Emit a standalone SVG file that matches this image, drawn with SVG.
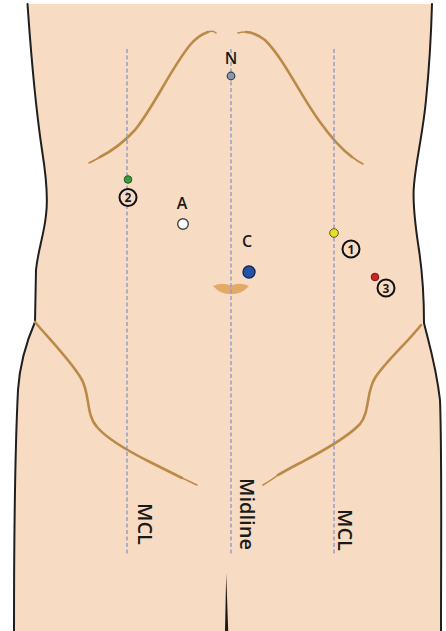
<svg xmlns="http://www.w3.org/2000/svg" width="446" height="631" viewBox="0 0 446 631">
  <style>
    .skin { fill: #f7dcc3; }
    .outline { fill: none; stroke: #1f1f1f; stroke-width: 2; stroke-linejoin: round; stroke-linecap: round; }
    .fold { fill: none; stroke: #bb8a48; stroke-width: 2.6; stroke-linecap: round; }
    .fold-thin { fill: none; stroke: #bb8a48; stroke-width: 1.6; stroke-linecap: round; }
    .guide { fill: none; stroke: #8d9bc6; stroke-width: 1.4; stroke-dasharray: 4 2.5; }
    .lbl { font-family: "Open Sans", "Liberation Sans", sans-serif; fill: #1a1a1a; }
    .pt { font-size: 16px; font-weight: 600; text-anchor: middle; }
    .axis { font-size: 20px; font-weight: 600; text-anchor: middle; }
    .ring { fill: none; stroke: #111; stroke-width: 2; }
    .num { font-size: 12px; font-weight: 700; text-anchor: middle; }
  </style>

  <rect width="446" height="631" fill="#ffffff"/>

  <!-- torso -->
  <g id="torso">
    <path class="skin" d="M27.5,4 C30,40 36,110 42,150 C46,175 48,200 46,215 C44,235 38,250 36,270 L35,322 C28,338 20,360 18,390 C16,430 14,500 14,631 L441,631 C441,550 442,450 440,400 C436,365 428,340 424,323 C424,300 422,270 419,250 C416,230 412,205 414,185 C416,160 423,133 426,100 C428,80 431,40 432,4 Z"/>
    <path class="outline" d="M27.5,4 C30,40 36,110 42,150 C46,175 48,200 46,215 C44,235 38,250 36,270 L35,322 C28,338 20,360 18,390 C16,430 14,500 14,631"/>
    <path class="outline" d="M432,4 C431,40 428,80 426,100 C423,133 416,160 414,185 C412,205 416,230 419,250 C422,270 424,300 424,323 C428,340 436,365 440,400 C442,450 441,550 441,631"/>
    <!-- crotch line -->
    <path d="M226.2,573 L228.2,631 L225,631 Z" fill="#1a1a1a"/>
  </g>

  <!-- costal margins and inguinal folds -->
  <g id="folds">
    <path class="fold" d="M100,157 C112,151 124,142 135,130 C155,105 170,70 190,45 C196,38 202,34 208,32"/>
    <path class="fold-thin" d="M89,163 C93,161 97,159 100,157 M208,32 C211,31 214,31 216,33"/>
    <path class="fold" d="M246,32 C252,32 258,35 265,40 C285,60 300,95 320,122 C330,136 340,148 352,157"/>
    <path class="fold-thin" d="M238,33 C241,32 243,32 246,32 M352,157 C356,160 359,162 363,164"/>
    <path class="fold" d="M35,322 C50,340 72,362 82,380 C90,395 86,415 97,427 C108,440 130,452 150,462 C162,468 172,473 182,478"/>
    <path class="fold-thin" d="M182,478 C187,480 192,483 197,485"/>
    <path class="fold" d="M421,325 C408,342 385,362 375,378 C366,392 370,412 360,424 C345,440 315,455 300,463 C292,467 285,471 278,475"/>
    <path class="fold-thin" d="M278,475 C273,479 268,482 263,485"/>
    <!-- navel -->
    <path d="M213,286 Q222,282 231,285.5 Q240,282 249,286 Q241,295 231,294 Q221,295 213,286 Z" fill="#e2aa66"/>
  </g>

  <!-- reference lines -->
  <g id="connectors">
    <line class="guide" x1="127" y1="49" x2="127" y2="556"/>
    <line class="guide" x1="231" y1="49" x2="231" y2="556"/>
    <line class="guide" x1="334" y1="49" x2="334" y2="556"/>
  </g>

  <g id="label-mcl-left">
    <text class="lbl axis" transform="translate(138,524) rotate(90)">MCL</text>
  </g>
  <g id="label-midline">
    <text class="lbl axis" transform="translate(240,514) rotate(90)">Midline</text>
  </g>
  <g id="label-mcl-right">
    <text class="lbl axis" transform="translate(338,530) rotate(90)">MCL</text>
  </g>

  <!-- points -->
  <g id="point-n">
    <text class="lbl pt" x="231" y="64">N</text>
    <circle cx="231" cy="76" r="3.8" fill="#8c97ab" stroke="#3a4252" stroke-width="1.2"/>
  </g>
  <g id="point-a">
    <text class="lbl pt" x="182" y="209">A</text>
    <circle cx="183" cy="224" r="5.3" fill="#ffffff" stroke="#444" stroke-width="1.4"/>
  </g>
  <g id="point-c">
    <text class="lbl pt" x="247" y="247">C</text>
    <circle cx="249" cy="272" r="6" fill="#2352a6" stroke="#16285c" stroke-width="1.4"/>
  </g>
  <g id="point-2">
    <circle cx="128" cy="179.5" r="3.8" fill="#3d9c3d" stroke="#245a24" stroke-width="1"/>
    <circle class="ring" cx="128" cy="197.5" r="8.5"/>
    <text class="lbl num" x="128" y="202">2</text>
  </g>
  <g id="point-1">
    <circle cx="334" cy="233" r="4.3" fill="#e4e028" stroke="#5a5a1c" stroke-width="1"/>
    <circle class="ring" cx="351" cy="249" r="8.5"/>
    <text class="lbl num" x="351" y="253.5">1</text>
  </g>
  <g id="point-3">
    <circle cx="375" cy="277" r="3.8" fill="#d42222" stroke="#6a1a1a" stroke-width="1"/>
    <circle class="ring" cx="386" cy="288" r="8.5"/>
    <text class="lbl num" x="386" y="292.5">3</text>
  </g>
</svg>
